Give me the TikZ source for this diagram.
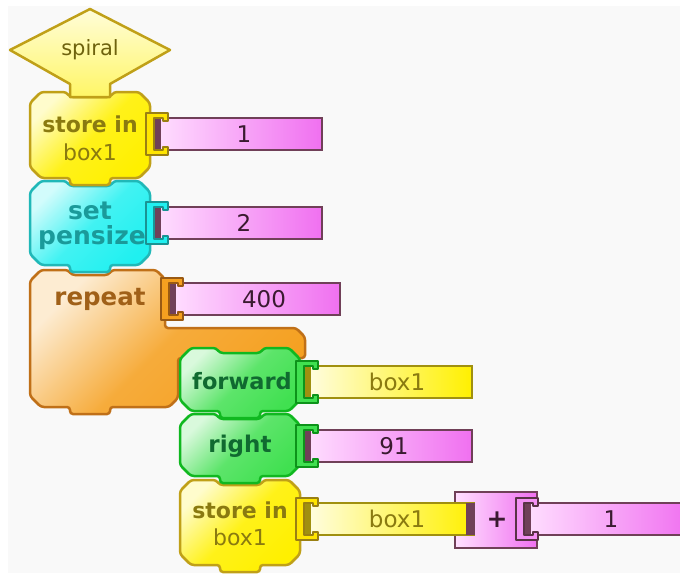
\documentclass[tikz,border=0pt]{standalone}
\usepackage{fontspec}
\setmainfont{DejaVu Sans}
\definecolor{ybord}{HTML}{C0A018}
\definecolor{ydark}{HTML}{FFF000}
\definecolor{ytext}{HTML}{8A7A10}
\definecolor{cbord}{HTML}{20B8B8}
\definecolor{cdark}{HTML}{20F0F0}
\definecolor{ctext}{HTML}{1A9A9A}
\definecolor{obord}{HTML}{C07018}
\definecolor{odark}{HTML}{F5A020}
\definecolor{otext}{HTML}{A06018}
\definecolor{gbord}{HTML}{10B820}
\definecolor{gdark}{HTML}{40E050}
\definecolor{gtext}{HTML}{106A30}
\definecolor{pbord}{HTML}{704058}
\definecolor{plight}{HTML}{FFE0FF}
\definecolor{pdark}{HTML}{F070F0}
\definecolor{ptext}{HTML}{3A1A30}
\definecolor{vybord}{HTML}{A09010}
\definecolor{bg}{HTML}{F9F9F9}
\tikzset{
  blockbase/.style={line width=2.5pt, rounded corners=3pt},
  yblock/.style={blockbase, draw=ybord, top color=ydark!20!white, bottom color=ydark, middle color=ydark!90!white, shading angle=45},
  cblock/.style={blockbase, draw=cbord, top color=cdark!20!white, bottom color=cdark, middle color=cdark!85!white, shading angle=45},
  oblock/.style={blockbase, draw=obord, top color=odark!20!white, bottom color=odark, middle color=odark!88!white, shading angle=45},
  gblock/.style={blockbase, draw=gbord, top color=gdark!20!white, bottom color=gdark, middle color=gdark!85!white, shading angle=45},
  pval/.style={draw=pbord, line width=2.5pt, left color=plight, right color=pdark},
  yval/.style={draw=vybord, line width=2.5pt, left color=ydark!10!white, right color=ydark},
  sockbase/.style={line width=1.2pt, line join=round},
  ysock/.style={sockbase, draw=ybord!80!black, fill=ydark!90!orange},
  csock/.style={sockbase, draw=cbord!80!black, fill=cdark},
  osock/.style={sockbase, draw=obord!80!black, fill=odark},
  gsock/.style={sockbase, draw=gbord!80!black, fill=gdark},
  psock/.style={sockbase, draw=pbord!80!black, fill=pdark!70!plight},
  lab/.style={inner sep=0pt, font=\fontsize{23}{26}\selectfont\bfseries},
  sublab/.style={inner sep=0pt, font=\fontsize{22}{24}\selectfont},
  vtext/.style={inner sep=0pt, font=\fontsize{23}{26}\selectfont, text=ptext},
}
% block: style, x1, y1, x2, y2
\newcommand\blk[5]{%
  \path[#1] (#2,#3+11) -- (#2+11,#3) -- (#2+36,#3) -- (#2+40,#3+5) -- (#2+80,#3+5) -- (#2+84,#3)
    -- (#4-11,#3) -- (#4,#3+11) -- (#4,#5-11) -- (#4-11,#5) -- (#2+80,#5) -- (#2+80,#5+7)
    -- (#2+40,#5+7) -- (#2+40,#5) -- (#2+11,#5) -- (#2,#5-11) -- cycle;}
% socket: style, x, yc
\newcommand\sock[3]{%
  \path[#1] (#2-4,#3-21) -- (#2+18,#3-21) -- (#2+18,#3-13) -- (#2+13,#3-13) -- (#2+13,#3-16)
    -- (#2+4,#3-16) -- (#2+4,#3+16) -- (#2+13,#3+16) -- (#2+13,#3+13) -- (#2+18,#3+13)
    -- (#2+18,#3+21) -- (#2-4,#3+21) -- cycle;}
% value box: style, x1, y1, x2, y2, dark colour of its left end
\newcommand\valbx[6]{%
  \path[#1] (#2,#3) rectangle (#4,#5);
  \fill[#6] (#2,#3+1) rectangle (#2+7,#5-1);}
\begin{document}
\begin{tikzpicture}[x=1pt,y=-1pt]
\useasboundingbox (0,0) rectangle (680,573);
\fill[white] (0,0) rectangle (680,573);
\fill[bg] (8,6) rectangle (680,573);

% value boxes (drawn first, sockets overlap them)
\valbx{pval}{154}{118}{322}{150}{pbord}
\node[vtext] (v1) at (244,134) {1};
\valbx{pval}{154}{207}{322}{239}{pbord}
\node[vtext] (v2) at (244,223) {2};
\valbx{pval}{169}{283}{340}{315}{pbord}
\node[vtext] (v3) at (264,299) {400};
\valbx{yval}{304}{366}{472}{398}{vybord}
\node[vtext, text=ytext] (v4) at (397,382) {box1};
\valbx{pval}{304}{430}{472}{462}{pbord}
\node[vtext] (v5) at (394,446) {91};
% plus operator
\path[pval] (455,492) rectangle (537,548);
\valbx{pval}{524}{503}{690}{535}{pbord}
\node[vtext] (v7) at (611,519) {1};
\sock{psock}{520}{519}
\valbx{yval}{304}{503}{474}{535}{vybord}
\fill[pbord] (466,503) rectangle (475,535);
\node[vtext, text=ytext] (v6) at (397,519) {box1};
\node[vtext, font=\fontsize{25}{26}\selectfont\bfseries] (plus) at (497,520) {+};

% repeat block
\path[oblock] (30,281) -- (41,270) -- (68,270) -- (72,275) -- (108,275) -- (112,270) -- (156,270)
  -- (165,279) -- (165,328) -- (296,328) -- (305,337) -- (305,358) -- (178,358) -- (178,398)
  -- (169,407) -- (110,407) -- (110,414) -- (70,414) -- (70,407) -- (41,407) -- (30,396) -- cycle;
\sock{osock}{165}{299}
\node[lab, text=otext, font=\fontsize{24.5}{26}\selectfont\bfseries] (rep) at (100,299) {repeat};

% inner blocks, bottom first
\blk{yblock}{180}{480}{300}{565}
\sock{ysock}{300}{519}
\node[lab, text=ytext, font=\fontsize{22}{24}\selectfont\bfseries] (st2a) at (240,510) {store in};
\node[sublab, text=ytext] (st2b) at (240,537) {box1};

\blk{gblock}{180}{414}{300}{476}
\sock{gsock}{300}{446}
\node[lab, text=gtext] (rt) at (240,446) {right};

\blk{gblock}{180}{348}{300}{411}
\sock{gsock}{300}{382}
\node[lab, text=gtext, font=\fontsize{22.5}{24}\selectfont\bfseries] (fw) at (242,381) {forward};

% upper stack
\blk{cblock}{30}{181}{150}{265}
\sock{csock}{150}{223}
\node[lab, text=ctext, font=\fontsize{25}{26}\selectfont\bfseries] (set) at (90,211) {set};
\node[lab, text=ctext, font=\fontsize{25}{26}\selectfont\bfseries] (pen) at (92,238) {pensize};

\blk{yblock}{30}{92}{150}{178}
\sock{ysock}{150}{134}
\node[lab, text=ytext, font=\fontsize{22}{24}\selectfont\bfseries] (st1a) at (90,124) {store in};
\node[sublab, text=ytext] (st1b) at (90,152) {box1};

% hat
\path[draw=ybord, line width=2.5pt, top color=ydark!15!white, bottom color=ydark!60!white, line join=round]
  (10,50) -- (90,9) -- (170,50) -- (110,84) -- (110,97) -- (70,97) -- (70,84) -- cycle;
\node[sublab, text=ytext!80!black, font=\fontsize{21}{22}\selectfont] (spiral) at (90,50) {spiral};
\end{tikzpicture}
\end{document}
